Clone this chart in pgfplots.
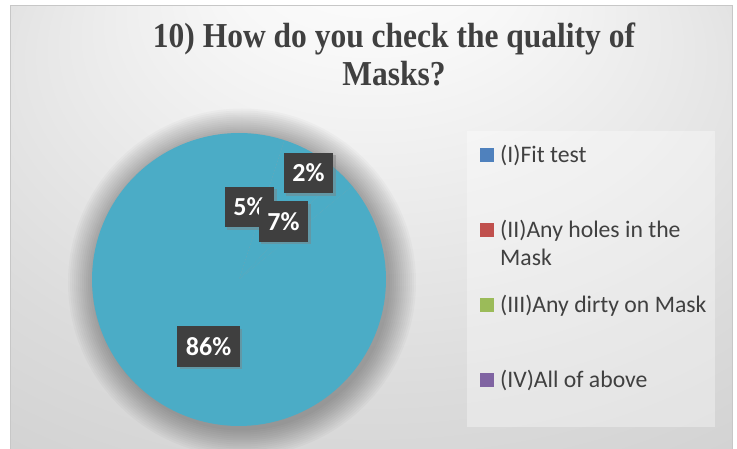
\documentclass[border=0pt]{standalone}
\usepackage{fontspec}
\setmainfont{Carlito}
\newfontfamily\titlefont{Liberation Serif}
\usepackage{graphicx}
\usepackage{pgfplots}
\pgfplotsset{compat=1.18}
\usepackage{pgfplotstable}
\usetikzlibrary{shadows}

\definecolor{pieteal}{HTML}{4BACC6}
\definecolor{legblue}{HTML}{4F81BD}
\definecolor{legred}{HTML}{C0504D}
\definecolor{leggreen}{HTML}{9BBB59}
\definecolor{legpurple}{HTML}{8064A2}
\definecolor{txtgray}{HTML}{404040}
\definecolor{boxgray}{HTML}{3F3F3F}

\pgfdeclareradialshading{chartbg}{\pgfpoint{0bp}{36bp}}{color(0bp)=(white); color(10bp)=(white!97!black); color(32bp)=(white!86!black); color(50bp)=(white!79!black)}

% share of answers (percent)
\pgfplotstableread{
cat value
FitTest 5
Holes 7
Dirty 2
All 86
}\piedata

% label positions of the data labels and their values
\pgfplotstableread{
x y value
-0.207 -0.457 86
0.071 0.495 5
0.303 0.396 7
0.473 0.727 2
}\labeldata

\pgfplotsset{
  sqlegend/.style={legend image code/.code={\fill[draw=none,##1] (0bp,-7bp) rectangle (14bp,7bp);}},
}

\begin{document}
\begin{tikzpicture}
\path[use as bounding box] (0bp,0bp) rectangle (737bp,449bp);
\fill[white] (0bp,0bp) rectangle (737bp,449bp);
\shade[shading=chartbg] (10bp,0bp) rectangle (732bp,443bp);
\draw[white!78!black, line width=1bp] (10bp,0bp) -- (10bp,443bp) -- (732bp,443bp) -- (732bp,0bp);
% legend panel
\fill[white, opacity=0.35] (467bp,22bp) rectangle (715bp,318bp);
% soft shadow around the pie
\foreach \r in {148,150,...,174} {\fill[black, opacity=0.022] (242bp,166.5bp) circle (\r bp);}

% title
\node[anchor=base, text=txtgray, inner sep=0pt] at (394bp,401bp)
  {\scalebox{0.9}[1]{\titlefont\bfseries\fontsize{35bp}{38bp}\selectfont 10) How do you check the quality of}};
\node[anchor=base, text=txtgray, inner sep=0pt] at (394bp,363bp)
  {\scalebox{0.9}[1]{\titlefont\bfseries\fontsize{35bp}{38bp}\selectfont Masks?}};

\begin{axis}[
  at={(239bp,169.5bp)}, anchor=center,
  width=294bp, height=293bp, scale only axis,
  xmin=-1, xmax=1, ymin=-1, ymax=1,
  hide axis, clip=false,
  legend cell align=left,
  legend style={
    at={(axis cs:1.6395,0.9386)}, anchor=north west,
    draw=none, fill=none, inner sep=0pt,
    font=\fontsize{23.7bp}{28.7bp}\selectfont, text=txtgray,
    row sep=50bp,
    nodes={inner sep=0pt, text height=20bp, text depth=5bp},
    /tikz/every odd column/.append style={column sep=6bp},
  },
]
% slices, clockwise from 12 o'clock (all drawn in the same teal as the reference)
\addplot[fill=pieteal, draw=none, domain={90-3.6*5}:{90}, samples=12, forget plot]
  ({cos(x)},{sin(x)}) -- (0,0) -- cycle;
\addplot[fill=pieteal, draw=none, domain={90-3.6*12}:{90-3.6*5}, samples=12, forget plot]
  ({cos(x)},{sin(x)}) -- (0,0) -- cycle;
\addplot[fill=pieteal, draw=none, domain={90-3.6*14}:{90-3.6*12}, samples=6, forget plot]
  ({cos(x)},{sin(x)}) -- (0,0) -- cycle;
\addplot[fill=pieteal, draw=none, domain={90-3.6*100}:{90-3.6*14}, samples=120, forget plot]
  ({cos(x)},{sin(x)}) -- (0,0) -- cycle;

% data labels
\addplot[draw=none, mark=none, forget plot,
  point meta=explicit,
  /pgf/number format/assume math mode=true,
  nodes near coords={\pgfmathprintnumber{\pgfplotspointmeta}\%},
  nodes near coords style={anchor=center, fill=boxgray, text=white,
    font=\bfseries\fontsize{26bp}{30bp}\selectfont,
    /pgf/number format/assume math mode=true,
    inner xsep=8.5bp, inner ysep=0pt, minimum height=40.5bp,
    drop shadow={shadow xshift=2.5bp, shadow yshift=-2.5bp, opacity=0.45}},
] table[x=x, y=y, meta=value] {\labeldata};

\addlegendimage{sqlegend, fill=legblue}
\addlegendentry{(I)Fit test}
\addlegendimage{sqlegend, fill=legred}
\addlegendentry{\vtop{\baselineskip=28.7bp\hbox{(II)Any holes in the}\hbox{Mask}}}
\addlegendimage{sqlegend, fill=leggreen}
\addlegendentry{(III)Any dirty on Mask}
\addlegendimage{sqlegend, fill=legpurple}
\addlegendentry{(IV)All of above}
\end{axis}
\end{tikzpicture}
\end{document}
